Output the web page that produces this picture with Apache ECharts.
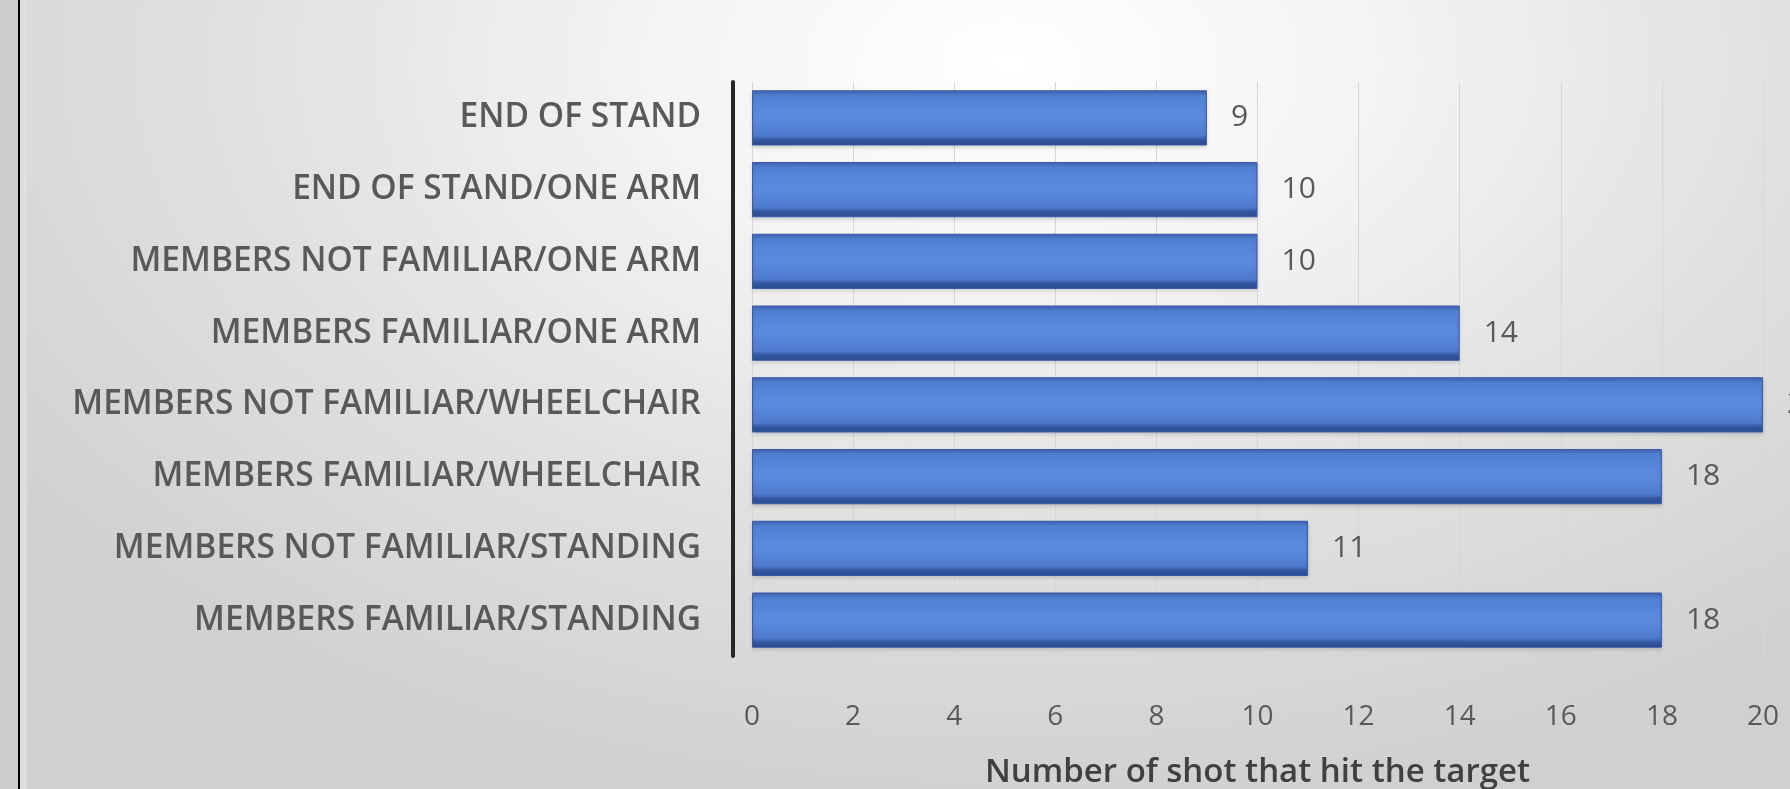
<!DOCTYPE html>
<html>
<head>
<meta charset="utf-8">
<script src="https://cdn.jsdelivr.net/npm/echarts@6/dist/echarts.min.js"></script>
<style>
  html, body { margin: 0; padding: 0; width: 1790px; height: 789px; overflow: hidden; background: #cccccc; }
  #bg { position: absolute; left: 20px; top: 0; width: 1770px; height: 789px;
        background: radial-gradient(ellipse 70% 95% at 56% 8%, #ffffff 0%, #f3f3f3 30%, #e2e2e2 60%, #d0d0d0 100%); }
  #bg2 { position: absolute; left: 20px; top: 0; width: 7px; height: 789px; background: #dedede; }
  #line { position: absolute; left: 18px; top: 0; width: 2px; height: 789px; background: #000; }
  #chart { position: absolute; left: 0; top: 0; width: 1790px; height: 789px; }
</style>
</head>
<body>
<div id="bg"></div>
<div id="bg2"></div>
<div id="line"></div>
<div id="chart"></div>
<script>
// Categories listed bottom-to-top (ECharts category y-axis starts at bottom)
const categories = [
  'MEMBERS FAMILIAR/STANDING',
  'MEMBERS NOT FAMILIAR/STANDING',
  'MEMBERS FAMILIAR/WHEELCHAIR',
  'MEMBERS NOT FAMILIAR/WHEELCHAIR',
  'MEMBERS FAMILIAR/ONE ARM',
  'MEMBERS NOT FAMILIAR/ONE ARM',
  'END OF STAND/ONE ARM',
  'END OF STAND'
];
const shotsHit = [18, 11, 18, 20, 14, 10, 10, 9];
const xTicks = [0, 2, 4, 6, 8, 10, 12, 14, 16, 18, 20];
const xAxisTitle = 'Number of shot that hit the target';

const chart = echarts.init(document.getElementById('chart'), null, { renderer: 'canvas' });
const textColor = '#595959';
chart.setOption({
  backgroundColor: 'transparent',
  animation: false,
  grid: { left: 752, right: 27, top: 82, bottom: 133, containLabel: false, outerBoundsMode: 'none' },
  xAxis: {
    type: 'value',
    min: xTicks[0],
    max: xTicks[xTicks.length - 1],
    interval: 2,
    name: xAxisTitle,
    nameLocation: 'middle',
    nameGap: 100,
    nameTextStyle: { fontFamily: 'Open Sans', fontSize: 33, fontWeight: 600, color: '#404040' },
    axisLine: { show: false },
    axisTick: { show: false },
    axisLabel: { fontFamily: 'Open Sans', fontSize: 28, color: textColor, margin: 47 },
    splitLine: { show: true, lineStyle: { color: '#d6d6d6', width: 1 } }
  },
  yAxis: {
    type: 'category',
    data: categories,
    offset: 19,
    axisLine: { show: true, onZero: false, lineStyle: { color: '#262626', width: 4 } },
    axisTick: { show: false },
    axisLabel: { fontFamily: 'Open Sans', fontSize: 33.5, fontWeight: 600, color: textColor, margin: 32 }
  },
  series: [{
    type: 'bar',
    data: shotsHit,
    barCategoryGap: '23%',
    itemStyle: {
      color: new echarts.graphic.LinearGradient(0, 0, 0, 1, [
        { offset: 0, color: '#3d62b0' },
        { offset: 0.1, color: '#5181d4' },
        { offset: 0.5, color: '#5b8ade' },
        { offset: 0.82, color: '#4f7bcd' },
        { offset: 0.9, color: '#3457a0' },
        { offset: 1, color: '#2c4c90' }
      ]),
      borderColor: '#3a5aa6',
      borderWidth: 1,
      shadowColor: 'rgba(0,0,0,0.15)',
      shadowBlur: 4,
      shadowOffsetY: 2
    },
    label: {
      show: true,
      position: 'right',
      distance: 24,
      fontFamily: 'Open Sans',
      fontSize: 30,
      color: textColor
    }
  }]
});
</script>
</body>
</html>
